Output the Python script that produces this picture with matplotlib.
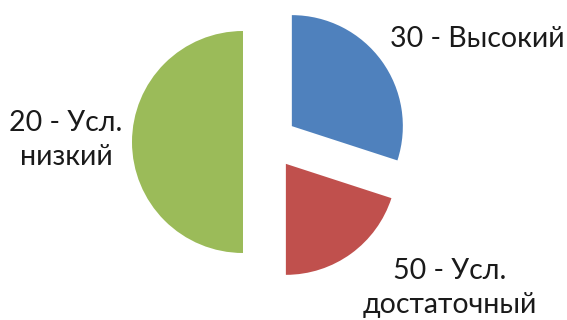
import matplotlib
matplotlib.use("Agg")
import matplotlib.pyplot as plt

labels = ["30 - Высокий", "50 - Усл.\nдостаточный", "20 - Усл.\nнизкий"]
values = [30, 20, 50]
colors = ["#4F81BD", "#C0504D", "#9BBB59"]

W, H = 567, 320
fig = plt.figure(figsize=(W / 100, H / 100), dpi=100)
ax = fig.add_axes([0, 0, 1, 1])

R = 111
ax.pie(values, colors=colors, startangle=90, counterclock=False,
       radius=R, center=(270, H - 142), explode=[27] * 3,
       wedgeprops=dict(linewidth=0), frame=True)
ax.set_xlim(0, W)
ax.set_ylim(0, H)
ax.set_aspect("equal")
ax.axis("off")

font = dict(family=["Lato", "DejaVu Sans"], fontsize=20.5, color="#1a1a1a",
            ha="center", va="center", linespacing=1.35)
ax.text(477, H - 39, labels[0], **font)
ax.text(450, H - 288, labels[1], **font)
ax.text(66, H - 140, labels[2], **font)

fig.savefig("out.png", dpi=100)
